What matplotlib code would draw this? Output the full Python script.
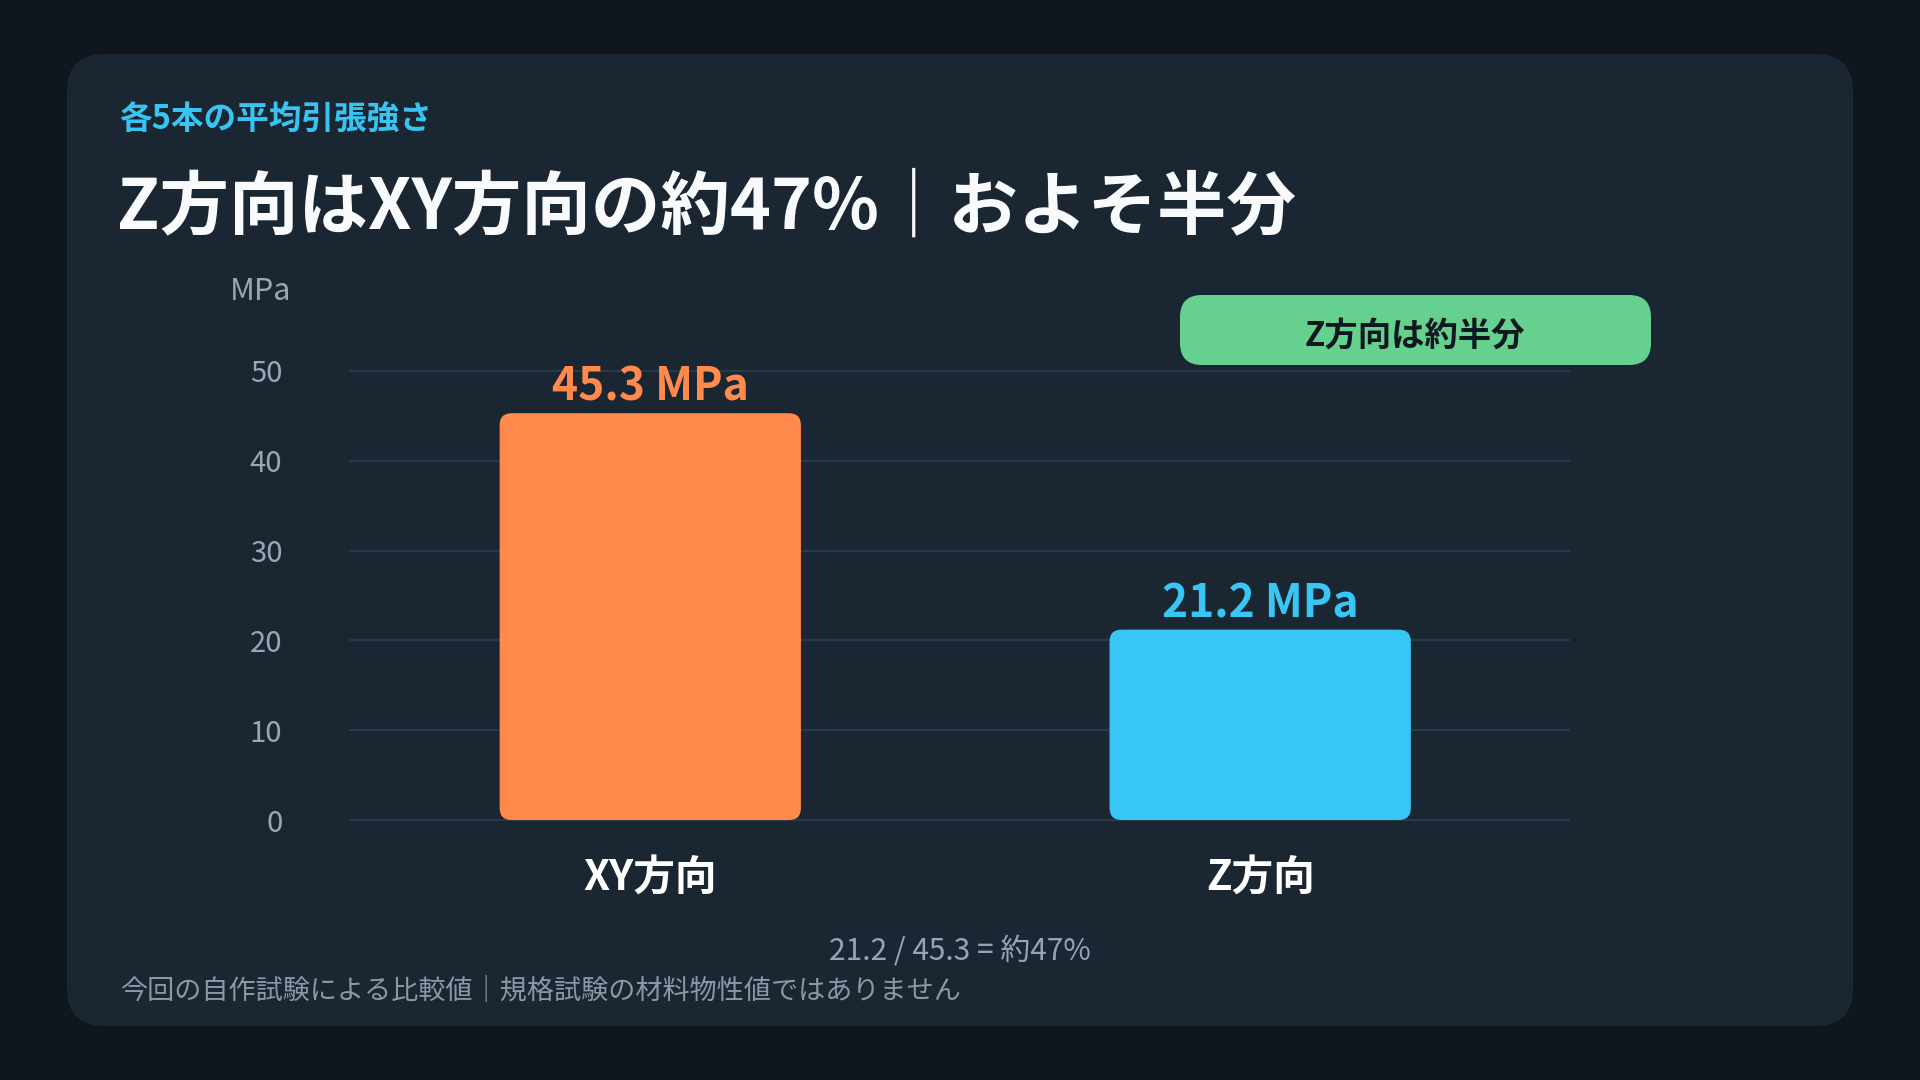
import matplotlib
matplotlib.use('Agg')
import matplotlib.pyplot as plt
from matplotlib.patches import FancyBboxPatch
from matplotlib.transforms import IdentityTransform

plt.rcParams['font.family'] = ['Noto Sans CJK JP', 'DejaVu Sans']

# ---- data ----
categories = ['XY方向', 'Z方向']
values = [45.3, 21.2]
value_labels = ['45.3 MPa', '21.2 MPa']
bar_colors = ['#ff8a4c', '#38c6f4']
yticks = [0, 10, 20, 30, 40, 50]
subtitle = '各5本の平均引張強さ'
title = 'Z方向はXY方向の約47%｜およそ半分'
unit = 'MPa'
badge_text = 'Z方向は約半分'
ratio_text = '21.2 / 45.3 = 約47%'
footnote = '今回の自作試験による比較値｜規格試験の材料物性値ではありません'

W, H = 1920, 1080
fig = plt.figure(figsize=(W / 100, H / 100), dpi=100)
fig.patch.set_facecolor('#0f161d')

# card
card = FancyBboxPatch((67, H - 1026), 1853 - 67, 1026 - 54,
                      boxstyle='round,pad=0,rounding_size=37',
                      transform=IdentityTransform(), facecolor='#1a2631',
                      edgecolor='none', zorder=-5)
fig.add_artist(card)

# header texts
fig.text(119 / W, 1 - 119 / H, subtitle, ha='left', va='center',
         fontsize=23.5, fontweight='bold', color='#38c4f2')
fig.text(117 / W, 1 - 208 / H, title, ha='left', va='center',
         fontsize=50, fontweight='bold', color='#f8fafc')

# axes
y0_px, y50_px = 820, 371
ppu = (y0_px - y50_px) / 50.0
m = 0.5
ax_left, ax_right = 349, 1570
ax = fig.add_axes([ax_left / W, 1 - (y0_px + m * ppu) / H,
                   (ax_right - ax_left) / W, (y0_px - y50_px + 2 * m * ppu) / H])
xmin, xmax = -0.494, 1.508
ax.set_xlim(xmin, xmax)
ax.set_ylim(-m, 50 + m)
ax.patch.set_alpha(0)
for s in ax.spines.values():
    s.set_visible(False)
ax.set_yticks(yticks)
ax.tick_params(axis='y', length=0, pad=48, labelsize=21, labelcolor='#9aa6b4')
ax.grid(axis='y', color='#28394a', linewidth=1.6)
ax.set_axisbelow(True)
ax.set_xticks(range(len(categories)))
ax.set_xticklabels(categories, fontweight='bold')
ax.tick_params(axis='x', length=0, pad=24, labelsize=30, labelcolor='#ffffff')

# bars with rounded corners
bw = 0.494
x_per_px = (xmax - xmin) / (ax_right - ax_left)
y_per_px = 1.0 / ppu
asp = y_per_px / x_per_px
r = 12 * x_per_px
for i, v in enumerate(values):
    p = FancyBboxPatch((i - bw / 2, 0), bw, v,
                       boxstyle=f'round,pad=0,rounding_size={r}',
                       mutation_aspect=asp, facecolor=bar_colors[i],
                       edgecolor='none', zorder=3)
    ax.add_patch(p)
    ax.annotate(value_labels[i], xy=(i, v), xytext=(0, 9),
                textcoords='offset points', ha='center', va='baseline',
                fontsize=32, fontweight='bold', color=bar_colors[i],
                annotation_clip=False)

# unit label
fig.text(261 / W, 1 - 292 / H, unit, ha='center', va='center',
         fontsize=22, color='#9aa6b4')

# badge
badge = FancyBboxPatch((1180, H - 365), 471, 70,
                       boxstyle='round,pad=0,rounding_size=22',
                       transform=IdentityTransform(), facecolor='#66d18e',
                       edgecolor='none', zorder=5)
fig.add_artist(badge)
fig.text(1415 / W, 1 - 336 / H, badge_text, ha='center', va='center',
         fontsize=24, fontweight='bold', color='#0f1720', zorder=6)

# bottom notes
fig.text(0.5, 1 - 951 / H, ratio_text, ha='center', va='center',
         fontsize=21.5, color='#94a3b8')
fig.text(120 / W, 1 - 991 / H, footnote, ha='left', va='center',
         fontsize=19.5, color='#8b98a6')

fig.savefig('out.png', dpi=100, facecolor=fig.get_facecolor())
